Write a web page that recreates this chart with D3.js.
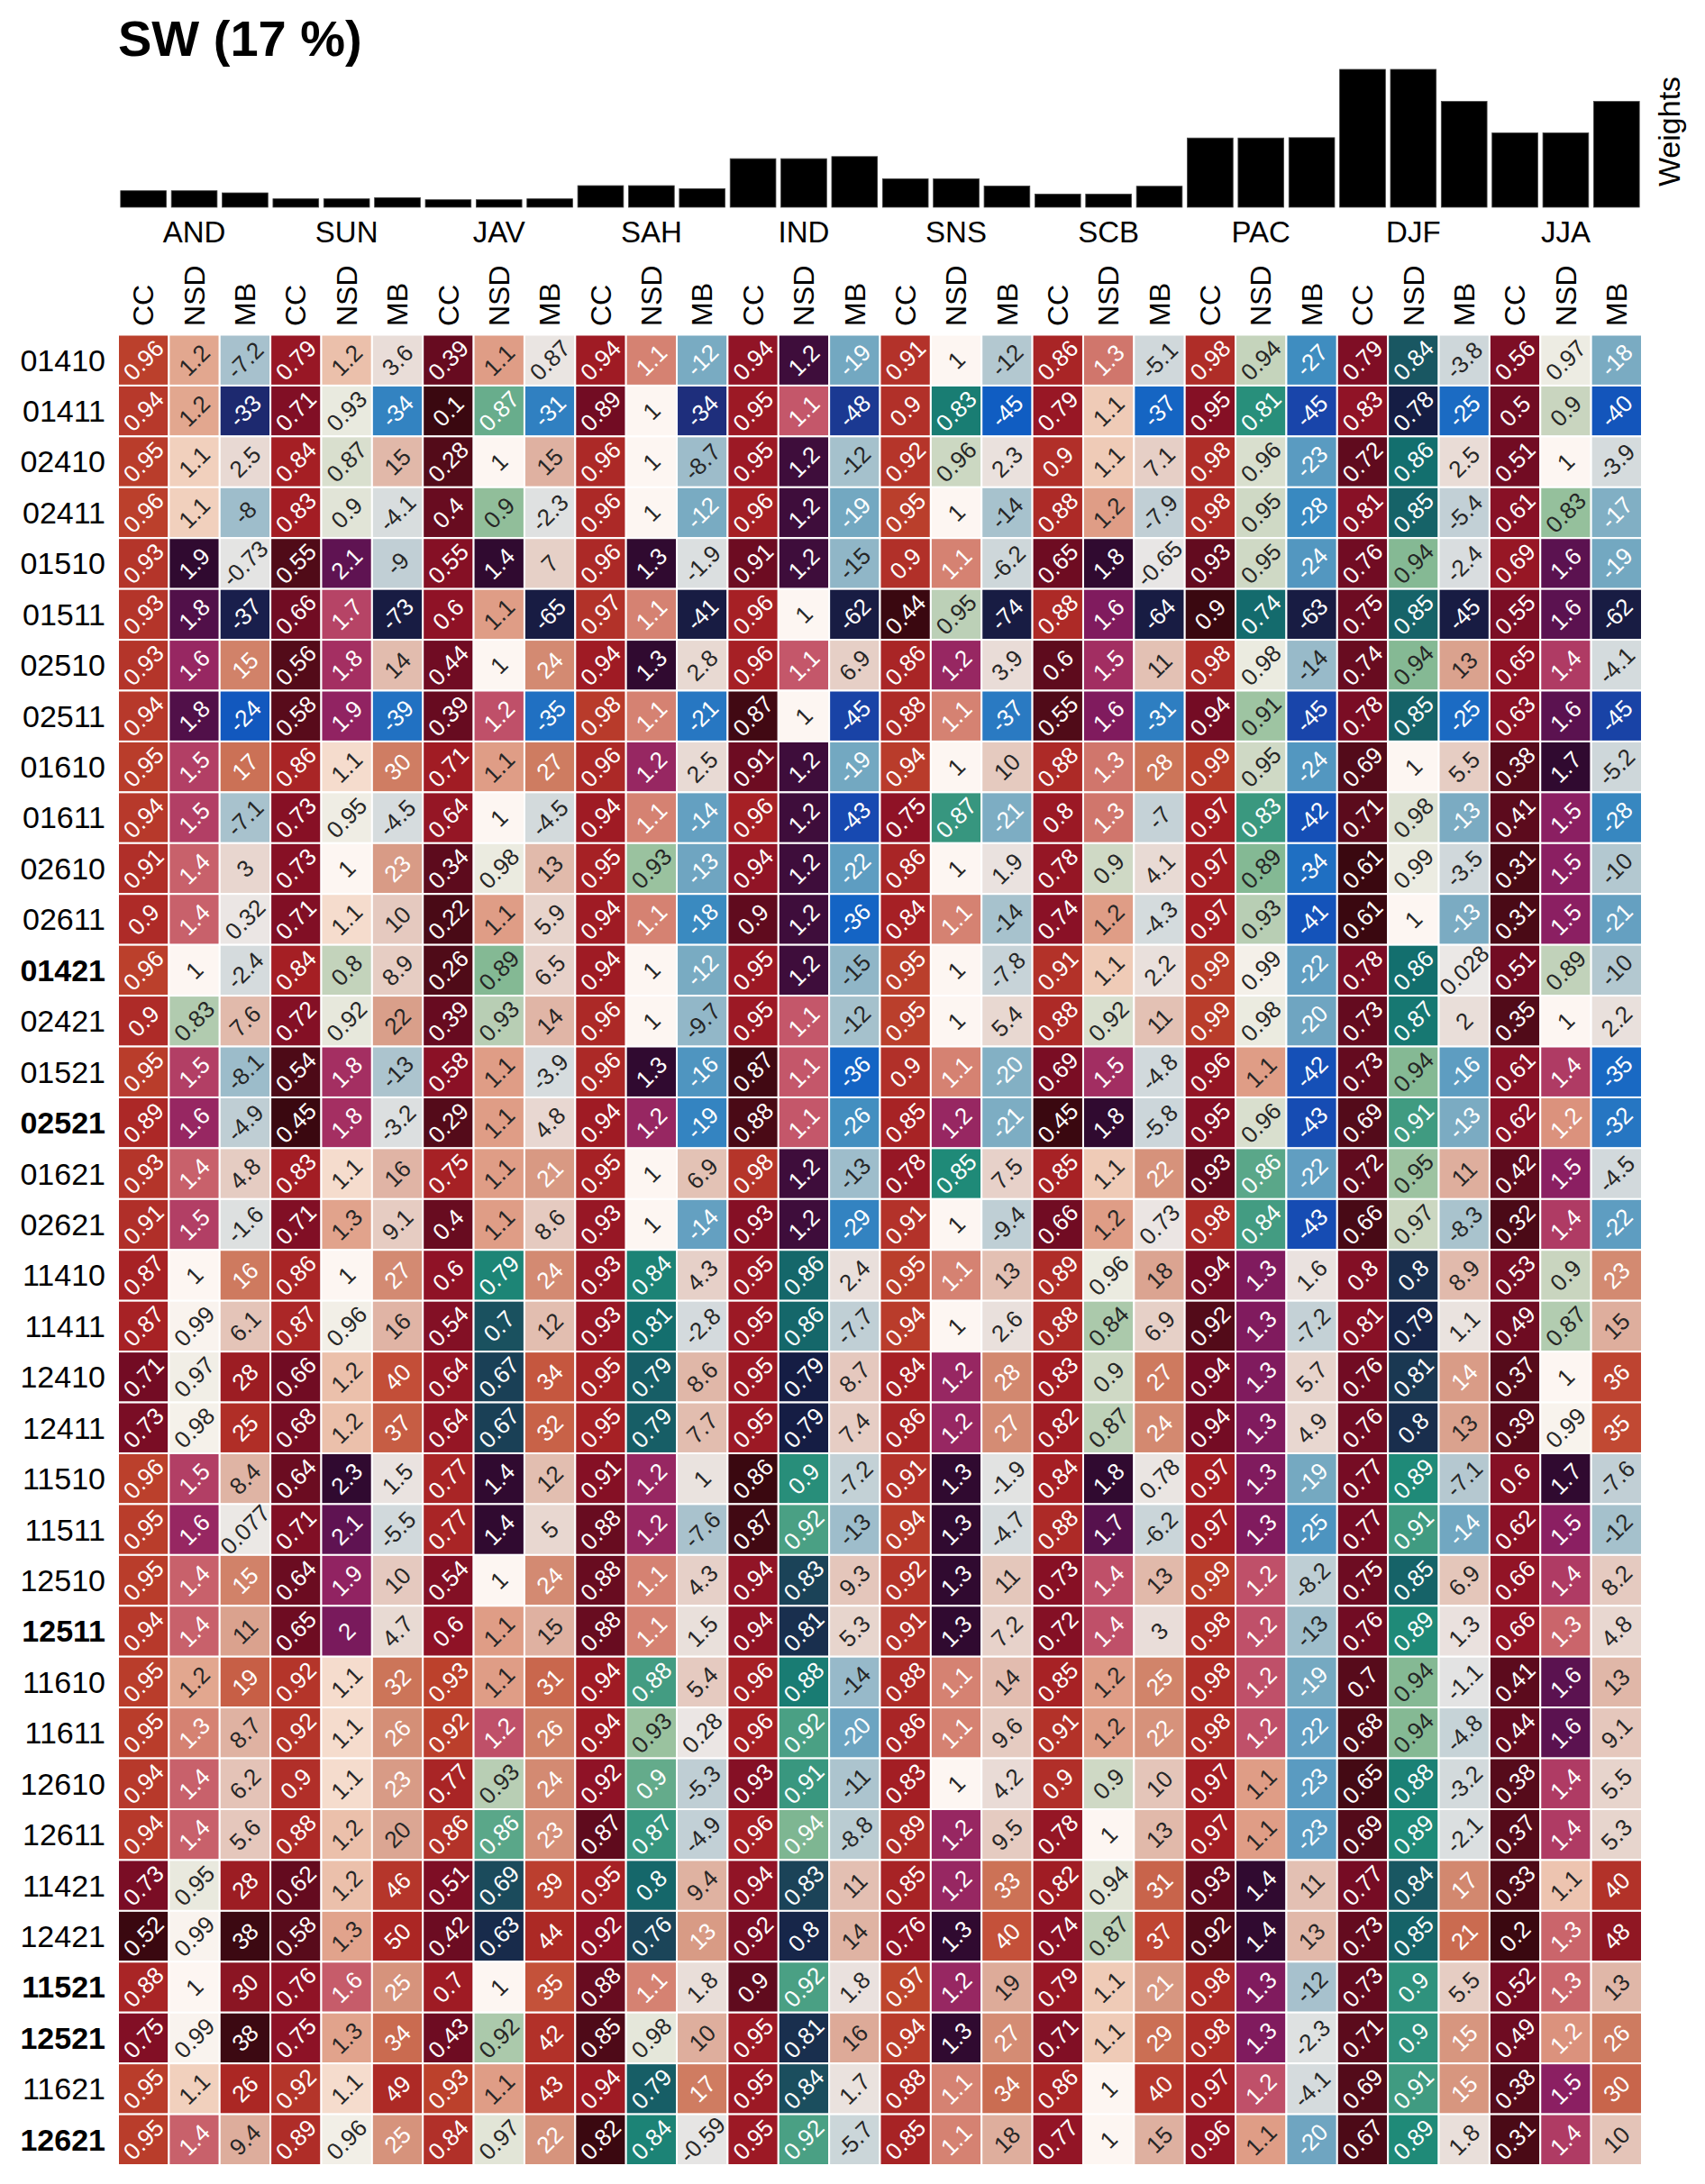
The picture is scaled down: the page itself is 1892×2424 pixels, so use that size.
<!DOCTYPE html>
<html><head><meta charset="utf-8">
<script src="https://cdn.jsdelivr.net/npm/d3@7"></script>
<style>body{margin:0;background:#fff;} text{font-family:"Liberation Sans",Arial,Helvetica,sans-serif;}</style>
</head><body><svg id="chart" width="1892" height="2424"></svg>
<script>
const title = "SW (17 %)";
const regions = ["AND","SUN","JAV","SAH","IND","SNS","SCB","PAC","DJF","JJA"];
const metrics = ["CC","NSD","MB"];
const weights = [5.5,5.5,4.8, 2.8,2.8,3.2, 2.5,2.5,2.8, 7.2,7.2,6.2, 16.2,16.2,16.9, 9.5,9.5,7.1, 4.4,4.4,7.0, 23.1,23.1,23.2, 46,46,35.3, 24.8,24.8,35.3];
const rowLabels = ["01410","01411","02410","02411","01510","01511","02510","02511","01610","01611","02610","02611","01421","02421","01521","02521","01621","02621","11410","11411","12410","12411","11510","11511","12510","12511","11610","11611","12610","12611","11421","12421","11521","12521","11621","12621"];
const boldRows = ["01421","02521","12511","11521","12521","12621"];
const cellValues = [
[0.96,1.2,-7.2, 0.79,1.2,3.6, 0.39,1.1,0.87, 0.94,1.1,-12, 0.94,1.2,-19, 0.91,1,-12, 0.86,1.3,-5.1, 0.98,0.94,-27, 0.79,0.84,-3.8, 0.56,0.97,-18],
[0.94,1.2,-33, 0.71,0.93,-34, 0.1,0.87,-31, 0.89,1,-34, 0.95,1.1,-48, 0.9,0.83,-45, 0.79,1.1,-37, 0.95,0.81,-45, 0.83,0.78,-25, 0.5,0.9,-40],
[0.95,1.1,2.5, 0.84,0.87,15, 0.28,1,15, 0.96,1,-8.7, 0.95,1.2,-12, 0.92,0.96,2.3, 0.9,1.1,7.1, 0.98,0.96,-23, 0.72,0.86,2.5, 0.51,1,-3.9],
[0.96,1.1,-8, 0.83,0.9,-4.1, 0.4,0.9,-2.3, 0.96,1,-12, 0.96,1.2,-19, 0.95,1,-14, 0.88,1.2,-7.9, 0.98,0.95,-28, 0.81,0.85,-5.4, 0.61,0.83,-17],
[0.93,1.9,-0.73, 0.55,2.1,-9, 0.55,1.4,7, 0.96,1.3,-1.9, 0.91,1.2,-15, 0.9,1.1,-6.2, 0.65,1.8,-0.65, 0.93,0.95,-24, 0.76,0.94,-2.4, 0.69,1.6,-19],
[0.93,1.8,-37, 0.66,1.7,-73, 0.6,1.1,-65, 0.97,1.1,-41, 0.96,1,-62, 0.44,0.95,-74, 0.88,1.6,-64, 0.9,0.74,-63, 0.75,0.85,-45, 0.55,1.6,-62],
[0.93,1.6,15, 0.56,1.8,14, 0.44,1,24, 0.94,1.3,2.8, 0.96,1.1,6.9, 0.86,1.2,3.9, 0.6,1.5,11, 0.98,0.98,-14, 0.74,0.94,13, 0.65,1.4,-4.1],
[0.94,1.8,-24, 0.58,1.9,-39, 0.39,1.2,-35, 0.98,1.1,-21, 0.87,1,-45, 0.88,1.1,-37, 0.55,1.6,-31, 0.94,0.91,-45, 0.78,0.85,-25, 0.63,1.6,-45],
[0.95,1.5,17, 0.86,1.1,30, 0.71,1.1,27, 0.96,1.2,2.5, 0.91,1.2,-19, 0.94,1,10, 0.88,1.3,28, 0.99,0.95,-24, 0.69,1,5.5, 0.38,1.7,-5.2],
[0.94,1.5,-7.1, 0.73,0.95,-4.5, 0.64,1,-4.5, 0.94,1.1,-14, 0.96,1.2,-43, 0.75,0.87,-21, 0.8,1.3,-7, 0.97,0.83,-42, 0.71,0.98,-13, 0.41,1.5,-28],
[0.91,1.4,3, 0.73,1,23, 0.34,0.98,13, 0.95,0.93,-13, 0.94,1.2,-22, 0.86,1,1.9, 0.78,0.9,4.1, 0.97,0.89,-34, 0.61,0.99,-3.5, 0.31,1.5,-10],
[0.9,1.4,0.32, 0.71,1.1,10, 0.22,1.1,5.9, 0.94,1.1,-18, 0.9,1.2,-36, 0.84,1.1,-14, 0.74,1.2,-4.3, 0.97,0.93,-41, 0.61,1,-13, 0.31,1.5,-21],
[0.96,1,-2.4, 0.84,0.8,8.9, 0.26,0.89,6.5, 0.94,1,-12, 0.95,1.2,-15, 0.95,1,-7.8, 0.91,1.1,2.2, 0.99,0.99,-22, 0.78,0.86,0.028, 0.51,0.89,-10],
[0.9,0.83,7.6, 0.72,0.92,22, 0.39,0.93,14, 0.96,1,-9.7, 0.95,1.1,-12, 0.95,1,5.4, 0.88,0.92,11, 0.99,0.98,-20, 0.73,0.87,2, 0.35,1,2.2],
[0.95,1.5,-8.1, 0.54,1.8,-13, 0.58,1.1,-3.9, 0.96,1.3,-16, 0.87,1.1,-36, 0.9,1.1,-20, 0.69,1.5,-4.8, 0.96,1.1,-42, 0.73,0.94,-16, 0.61,1.4,-35],
[0.89,1.6,-4.9, 0.45,1.8,-3.2, 0.29,1.1,4.8, 0.94,1.2,-19, 0.88,1.1,-26, 0.85,1.2,-21, 0.45,1.8,-5.8, 0.95,0.96,-43, 0.69,0.91,-13, 0.62,1.2,-32],
[0.93,1.4,4.8, 0.83,1.1,16, 0.75,1.1,21, 0.95,1,6.9, 0.98,1.2,-13, 0.78,0.85,7.5, 0.85,1.1,22, 0.93,0.86,-22, 0.72,0.95,11, 0.42,1.5,-4.5],
[0.91,1.5,-1.6, 0.71,1.3,9.1, 0.4,1.1,8.6, 0.93,1,-14, 0.93,1.2,-29, 0.91,1,-9.4, 0.66,1.2,0.73, 0.98,0.84,-43, 0.66,0.97,-8.3, 0.32,1.4,-22],
[0.87,1,16, 0.86,1,27, 0.6,0.79,24, 0.93,0.84,4.3, 0.95,0.86,2.4, 0.95,1.1,13, 0.89,0.96,18, 0.94,1.3,1.6, 0.8,0.8,8.9, 0.53,0.9,23],
[0.87,0.99,6.1, 0.87,0.96,16, 0.54,0.7,12, 0.93,0.81,-2.8, 0.95,0.86,-7.7, 0.94,1,2.6, 0.88,0.84,6.9, 0.92,1.3,-7.2, 0.81,0.79,1.1, 0.49,0.87,15],
[0.71,0.97,28, 0.66,1.2,40, 0.64,0.67,34, 0.95,0.79,8.6, 0.95,0.79,8.7, 0.84,1.2,28, 0.83,0.9,27, 0.94,1.3,5.7, 0.76,0.81,14, 0.37,1,36],
[0.73,0.98,25, 0.68,1.2,37, 0.64,0.67,32, 0.95,0.79,7.7, 0.95,0.79,7.4, 0.86,1.2,27, 0.82,0.87,24, 0.94,1.3,4.9, 0.76,0.8,13, 0.39,0.99,35],
[0.96,1.5,8.4, 0.64,2.3,1.5, 0.77,1.4,12, 0.91,1.2,1, 0.86,0.9,-7.2, 0.91,1.3,-1.9, 0.84,1.8,0.78, 0.97,1.3,-19, 0.77,0.89,-7.1, 0.6,1.7,-7.6],
[0.95,1.6,0.077, 0.71,2.1,-5.5, 0.77,1.4,5, 0.88,1.2,-7.6, 0.87,0.92,-13, 0.94,1.3,-4.7, 0.88,1.7,-6.2, 0.97,1.3,-25, 0.77,0.91,-14, 0.62,1.5,-12],
[0.95,1.4,15, 0.64,1.9,10, 0.54,1,24, 0.88,1.1,4.3, 0.94,0.83,9.3, 0.92,1.3,11, 0.73,1.4,13, 0.99,1.2,-8.2, 0.75,0.85,6.9, 0.66,1.4,8.2],
[0.94,1.4,11, 0.65,2,4.7, 0.6,1.1,15, 0.88,1.1,1.5, 0.94,0.81,5.3, 0.91,1.3,7.2, 0.72,1.4,3, 0.98,1.2,-13, 0.76,0.89,1.3, 0.66,1.3,4.8],
[0.95,1.2,19, 0.92,1.1,32, 0.93,1.1,31, 0.94,0.88,5.4, 0.96,0.88,-14, 0.88,1.1,14, 0.85,1.2,25, 0.98,1.2,-19, 0.7,0.94,-1.1, 0.41,1.6,13],
[0.95,1.3,8.7, 0.92,1.1,26, 0.92,1.2,26, 0.94,0.93,0.28, 0.96,0.92,-20, 0.86,1.1,9.6, 0.91,1.2,22, 0.98,1.2,-22, 0.68,0.94,-4.8, 0.44,1.6,9.1],
[0.94,1.4,6.2, 0.9,1.1,23, 0.77,0.93,24, 0.92,0.9,-5.3, 0.93,0.91,-11, 0.83,1,4.2, 0.9,0.9,10, 0.97,1.1,-23, 0.65,0.88,-3.2, 0.38,1.4,5.5],
[0.94,1.4,5.6, 0.88,1.2,20, 0.86,0.86,23, 0.87,0.87,-4.9, 0.96,0.94,-8.8, 0.89,1.2,9.5, 0.78,1,13, 0.97,1.1,-23, 0.69,0.89,-2.1, 0.37,1.4,5.3],
[0.73,0.95,28, 0.62,1.2,46, 0.51,0.69,39, 0.95,0.8,9.4, 0.94,0.83,11, 0.85,1.2,33, 0.82,0.94,31, 0.93,1.4,11, 0.77,0.84,17, 0.33,1.1,40],
[0.52,0.99,38, 0.58,1.3,50, 0.42,0.63,44, 0.92,0.76,13, 0.92,0.8,14, 0.76,1.3,40, 0.74,0.87,37, 0.92,1.4,13, 0.73,0.85,21, 0.2,1.3,48],
[0.88,1,30, 0.76,1.6,25, 0.7,1,35, 0.88,1.1,1.8, 0.9,0.92,1.8, 0.97,1.2,19, 0.79,1.1,21, 0.98,1.3,-12, 0.73,0.9,5.5, 0.52,1.3,13],
[0.75,0.99,38, 0.75,1.3,34, 0.43,0.92,42, 0.85,0.98,10, 0.95,0.81,16, 0.94,1.3,27, 0.71,1.1,29, 0.98,1.3,-2.3, 0.71,0.9,15, 0.49,1.2,26],
[0.95,1.1,26, 0.92,1.1,49, 0.93,1.1,43, 0.94,0.79,17, 0.95,0.84,1.7, 0.88,1.1,34, 0.86,1,40, 0.97,1.2,-4.1, 0.69,0.91,15, 0.38,1.5,30],
[0.95,1.4,9.4, 0.89,0.96,25, 0.84,0.97,22, 0.82,0.84,-0.59, 0.95,0.92,-5.7, 0.85,1.1,18, 0.77,1,15, 0.96,1.1,-20, 0.67,0.89,1.8, 0.31,1.4,10]
];

// colormaps (approximations of cmocean balance / curl, and a red sequential map)
const balanceStops = [0,0.08,0.15,0.2,0.28,0.35,0.42,0.5,0.58,0.66,0.72,0.78,0.85,0.92,1];
const balanceColors = ["#181c43","#1e2c78","#1848b0","#0f5fc4","#3a8ac0","#76a9c1","#b4c8d0","#ebe8e6","#e4c4b8","#d89a84","#cc7458","#c24a34","#a82222","#7a0e24","#3c0912"];
const curlStops = [0,0.06,0.12,0.18,0.25,0.31,0.37,0.43,0.5,0.56,0.62,0.68,0.74,0.8,0.86,0.93,1];
const curlColors = ["#151d44","#1a3450","#1b4e5e","#136e6e","#1f8a78","#4aa084","#8cbc96","#cad6c0","#fdf6f2","#f0cdb9","#e0a088","#d27a6c","#c4566a","#a83262","#8a1e62","#5a1250","#300a30"];
const ccStops = [0,0.15,0.3,0.45,0.6,0.75,0.9,1];
const ccColors = ["#c4502e","#b4342a","#a41e24","#8e1226","#740c24","#5a0b1c","#440a14","#3a0810"];

const balanceMap = d3.scaleLinear().domain(balanceStops).range(balanceColors).interpolate(d3.interpolateRgb).clamp(true);
const curlMap = d3.scaleLinear().domain(curlStops).range(curlColors).interpolate(d3.interpolateRgb).clamp(true);
const ccMap = d3.scaleLinear().domain(ccStops).range(ccColors).interpolate(d3.interpolateRgb).clamp(true);

const nCols = regions.length * metrics.length;
const colIdx = d3.range(nCols);
const svg = d3.select("#chart");

const x = d3.scaleBand().domain(colIdx).range([131, 1822]);
const y = d3.scaleBand().domain(rowLabels).range([371.5, 2403]);
const bw = x.bandwidth(), bh = y.bandwidth();

// per-column normalisation
const colData = colIdx.map(c => cellValues.map(r => r[c]));
const colScale = colIdx.map(c => {
  const vals = colData[c]; const m = c % 3;
  if (m === 0) { const mn = d3.min(vals); return v => ccMap((1 - v) / (1 - mn)); }
  if (m === 1) { const D = d3.max(vals, v => Math.abs(v - 1)); return v => curlMap(0.5 + (v - 1) / (2 * D)); }
  const M = d3.max(vals, v => Math.abs(v)); return v => balanceMap(0.5 + v / (2 * M));
});
function lum(col) {
  const c = d3.rgb(col);
  const f = u => { u /= 255; return u <= 0.03928 ? u / 12.92 : Math.pow((u + 0.055) / 1.055, 2.4); };
  return 0.2126 * f(c.r) + 0.7152 * f(c.g) + 0.0722 * f(c.b);
}

// title
svg.append("text").attr("x", 131).attr("y", 62).attr("font-size", 56).attr("font-weight", "bold").text(title);

// weights bars
const yw = d3.scaleLinear().domain([0, d3.max(weights)]).range([230, 77]);
svg.append("g").selectAll("rect").data(weights).join("rect")
  .attr("x", (d, i) => x(i) + bw * 0.05).attr("width", bw * 0.9)
  .attr("y", d => yw(d)).attr("height", d => yw(0) - yw(d)).attr("fill", "#000")
  .attr("stroke", "#444").attr("stroke-width", 0.8);
svg.append("text").attr("transform", "translate(1852,146) rotate(-90)")
  .attr("text-anchor", "middle").attr("dy", "0.35em").attr("font-size", 34).text("Weights");

// group labels
svg.append("g").selectAll("text").data(regions).join("text")
  .attr("x", (d, i) => x(i * 3 + 1) + bw / 2).attr("y", 269)
  .attr("text-anchor", "middle").attr("font-size", 33).text(d => d);

// column labels
svg.append("g").selectAll("text").data(colIdx).join("text")
  .attr("transform", c => `translate(${x(c) + bw / 2},362) rotate(-90)`)
  .attr("dy", "0.35em").attr("font-size", 32).text(c => metrics[c % 3]);

// row labels
svg.append("g").selectAll("text").data(rowLabels).join("text")
  .attr("x", 117).attr("y", d => y(d) + bh / 2).attr("dy", "0.35em")
  .attr("text-anchor", "end").attr("font-size", 34)
  .attr("font-weight", d => boldRows.includes(d) ? "bold" : "normal").text(d => d);

// cells
const cells = [];
cellValues.forEach((row, ri) => row.forEach((v, ci) => {
  const fill = colScale[ci](v);
  cells.push({ r: rowLabels[ri], c: ci, v, fill });
}));
const g = svg.append("g");
g.selectAll("rect").data(cells).join("rect")
  .attr("x", d => x(d.c)).attr("y", d => y(d.r)).attr("width", bw).attr("height", bh)
  .attr("fill", d => d.fill).attr("stroke", "#fff").attr("stroke-width", 2);
g.selectAll("text").data(cells).join("text")
  .attr("transform", d => `translate(${x(d.c) + bw / 2},${y(d.r) + bh / 2}) rotate(-45)`)
  .attr("text-anchor", "middle").attr("dy", "0.35em").attr("font-size", 26)
  .attr("fill", d => lum(d.fill) > 0.408 ? "#262626" : "#ffffff")
  .text(d => String(d.v));
</script></body></html>
